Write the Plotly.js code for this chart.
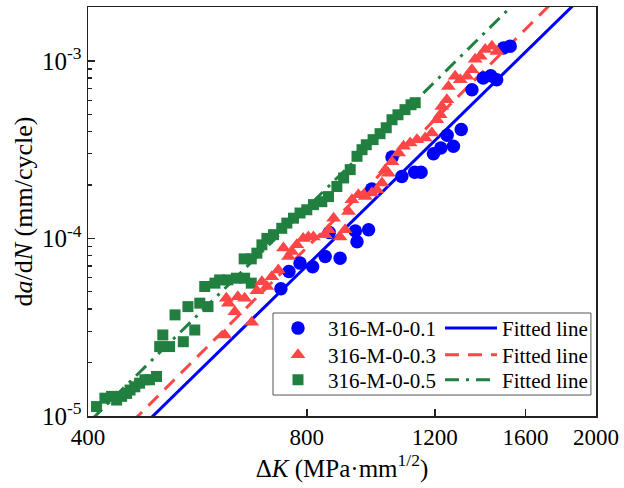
<!DOCTYPE html>
<html>
<head>
<meta charset="utf-8">
<script src="https://cdn.plot.ly/plotly-3.0.1.min.js"></script>
<style>html,body{margin:0;padding:0;background:#fff;}#chart{width:624px;height:488px;}</style>
</head>
<body>
<div id="chart"></div>
<script>
// ---- data ----
var blueK = [737, 756, 783, 815, 848, 889, 859, 933, 938, 973, 983, 1048, 1081, 1126, 1149, 1195, 1223, 1248, 1273, 1305, 1350, 1399, 1433, 1460, 1492, 1524];
var blueRate = [5.20e-5, 6.51e-5, 7.26e-5, 6.92e-5, 7.91e-5, 7.74e-5, 1.08e-4, 1.10e-4, 9.57e-5, 1.12e-4, 1.90e-4, 2.87e-4, 2.23e-4, 2.36e-4, 2.36e-4, 3.00e-4, 3.23e-4, 3.81e-4, 3.30e-4, 4.10e-4, 6.88e-4, 8.01e-4, 8.25e-4, 7.83e-4, 1.18e-3, 1.21e-3];

var redK = [617, 620, 624, 637, 643, 657, 672, 683, 694, 705, 716, 731, 743, 755, 763, 775, 791, 804, 817, 848, 857, 871, 889, 903, 913, 923, 942, 963, 983, 999, 1015, 1026, 1036, 1048, 1070, 1087, 1110, 1134, 1164, 1189, 1208, 1221, 1227, 1247, 1253, 1280, 1301, 1329, 1350, 1364, 1386, 1408, 1438, 1461];
var redRate = [2.86e-5, 4.61e-5, 4.32e-5, 3.87e-5, 4.70e-5, 4.61e-5, 3.37e-5, 5.07e-5, 5.71e-5, 5.36e-5, 6.08e-5, 6.65e-5, 8.82e-5, 7.91e-5, 8.44e-5, 9.20e-5, 1.00e-4, 1.02e-4, 1.02e-4, 1.05e-4, 1.12e-4, 1.30e-4, 1.02e-4, 1.12e-4, 1.42e-4, 1.65e-4, 1.76e-4, 1.72e-4, 1.80e-4, 1.88e-4, 2.05e-4, 2.44e-4, 2.33e-4, 2.70e-4, 3.03e-4, 3.30e-4, 3.45e-4, 3.60e-4, 3.68e-4, 3.92e-4, 4.66e-4, 4.97e-4, 5.54e-4, 6.04e-4, 7.18e-4, 8.18e-4, 7.83e-4, 8.18e-4, 8.92e-4, 1.02e-3, 1.06e-3, 1.16e-3, 1.21e-3, 1.13e-3];

var greenK = [411, 422, 431, 438, 445, 452, 457, 464, 471, 479, 486, 497, 502, 507, 518, 527, 541, 549, 561, 570, 579, 585, 598, 607, 623, 640, 657, 671, 656, 671, 683, 694, 705, 720, 739, 751, 767, 783, 800, 817, 839, 857, 880, 899, 918, 938, 953, 966, 987, 1009, 1029, 1048, 1068, 1092, 1113, 1128];
var greenRate = [1.13e-5, 1.26e-5, 1.29e-5, 1.23e-5, 1.29e-5, 1.34e-5, 1.40e-5, 1.46e-5, 1.53e-5, 1.60e-5, 1.60e-5, 1.67e-5, 2.46e-5, 2.86e-5, 2.46e-5, 3.71e-5, 2.62e-5, 4.13e-5, 3.05e-5, 4.32e-5, 5.36e-5, 4.13e-5, 5.60e-5, 5.84e-5, 5.84e-5, 5.97e-5, 5.97e-5, 5.60e-5, 7.67e-5, 7.67e-5, 8.26e-5, 9.20e-5, 1.00e-4, 1.05e-4, 1.14e-4, 1.22e-4, 1.30e-4, 1.39e-4, 1.45e-4, 1.55e-4, 1.61e-4, 1.72e-4, 1.96e-4, 2.19e-4, 2.44e-4, 2.90e-4, 3.16e-4, 3.37e-4, 3.60e-4, 3.89e-4, 4.20e-4, 4.66e-4, 4.97e-4, 5.31e-4, 5.66e-4, 5.81e-4];

// fitted lines (end points)
var blueFitK = [480, 2000];
var blueFitRate = [9.1e-6, 2.74e-3];
var redFitK = [460, 2000];
var redFitRate = [9.27e-6, 3.75e-3];
var greenFitK = [405, 2000];
var greenFitRate = [9.59e-6, 5.96e-3];

var seriesNames = ['316-M-0-0.1', '316-M-0-0.3', '316-M-0-0.5'];
var fitName = 'Fitted line';
var xTickVals = [400, 800, 1200, 1600, 2000];
var yTickVals = [1e-5, 1e-4, 1e-3];
var yTickText = ['10<sup>-5</sup>', '10<sup>-4</sup>', '10<sup>-3</sup>'];

// ---- styles ----
var BLUE = '#0000ff', RED = '#ff4646', GREEN = '#21803f';
var FONT = "'Liberation Serif', 'Times New Roman', 'DejaVu Serif', serif";

var traces = [
  {x: blueFitK, y: blueFitRate, mode: 'lines', name: fitName, legend: 'legend4',
   line: {color: BLUE, width: 3}},
  {x: redFitK, y: redFitRate, mode: 'lines', name: fitName, legend: 'legend5',
   line: {color: RED, width: 3, dash: '14px,9px'}},
  {x: greenFitK, y: greenFitRate, mode: 'lines', name: fitName, legend: 'legend6',
   line: {color: GREEN, width: 3, dash: '14px,7px,3px,7px'}},
  {x: blueK, y: blueRate, mode: 'markers', name: seriesNames[0], legend: 'legend',
   marker: {symbol: 'circle', size: 13.5, color: BLUE}},
  {x: greenK, y: greenRate, mode: 'markers', name: seriesNames[2], legend: 'legend3',
   marker: {symbol: 'square', size: 11, color: GREEN}},
  {x: redK, y: redRate, mode: 'markers', name: seriesNames[1], legend: 'legend2',
   marker: {symbol: 'triangle-up', size: 13, color: RED}}
];

var axisCommon = {
  showline: true, linecolor: '#222', linewidth: 1.5, mirror: true,
  showgrid: false, zeroline: false,
  ticks: 'inside', tickcolor: '#222', tickwidth: 1.5, ticklen: 7
};

function legendAt(xp, yp, iw) {
  return {
    x: xp, y: yp, xanchor: 'left', yanchor: 'middle',
    bgcolor: 'rgba(0,0,0,0)', borderwidth: 0, itemwidth: iw,
    font: {family: FONT, size: 21, color: '#000'}
  };
}
// legend row centres in paper fraction
var rowY = [0.214, 0.149, 0.088];
var colMarkX = 0.3543, colLineX = 0.6929;

var layout = {
  width: 624, height: 488,
  margin: {l: 88, r: 28, t: 7, b: 72, pad: 0},
  paper_bgcolor: '#fff', plot_bgcolor: '#fff',
  font: {family: FONT, color: '#000'},
  showlegend: true,
  xaxis: Object.assign({}, axisCommon, {
    type: 'log', range: [Math.log10(400), Math.log10(2000)],
    tickmode: 'array', tickvals: xTickVals, ticktext: xTickVals.map(String),
    tickfont: {family: FONT, size: 23, color: '#000'},
    title: {text: 'Δ<i>K</i> (MPa·mm<sup>1/2</sup>)', font: {family: FONT, size: 25}, standoff: 4}
  }),
  yaxis: Object.assign({}, axisCommon, {
    type: 'log', range: [-5, Math.log10(2.01e-3)],
    tickmode: 'array', tickvals: yTickVals, ticktext: yTickText,
    tickfont: {family: FONT, size: 25, color: '#000'},
    minor: {ticks: 'inside', ticklen: 4, tickwidth: 1.2, tickcolor: '#222', dtick: 'D1', showgrid: false},
    title: {text: 'd<i>a</i>/d<i>N</i> (mm/cycle)', font: {family: FONT, size: 26}, standoff: 2}
  }),
  legend: legendAt(colMarkX, rowY[0], 50),
  legend2: legendAt(colMarkX, rowY[1], 50),
  legend3: legendAt(colMarkX, rowY[2], 50),
  legend4: legendAt(colLineX, rowY[0], 52),
  legend5: legendAt(colLineX, rowY[1], 52),
  legend6: legendAt(colLineX, rowY[2], 52),
  shapes: [{
    type: 'rect', xref: 'paper', yref: 'paper',
    x0: 0.3642, x1: 0.990, y0: 0.0513, y1: 0.2518,
    line: {color: '#555', width: 1}, fillcolor: '#fff', layer: 'above'
  }]
};

Plotly.newPlot('chart', traces, layout, {staticPlot: true, displayModeBar: false});
</script>
</body>
</html>
